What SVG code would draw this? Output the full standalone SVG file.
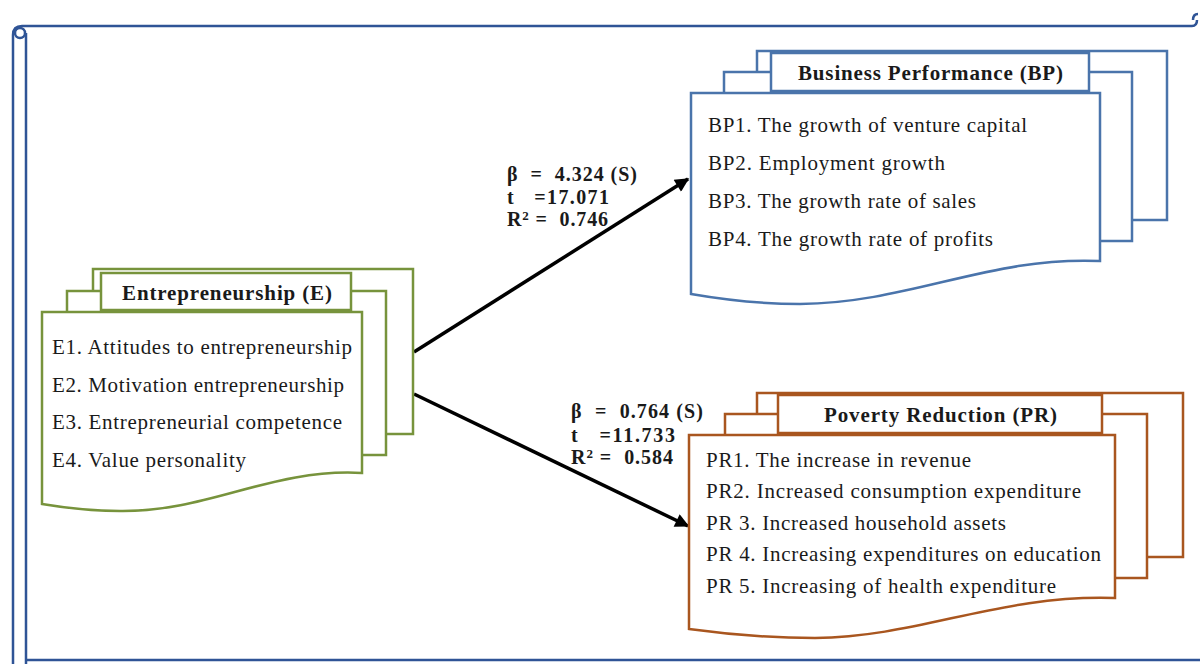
<svg xmlns="http://www.w3.org/2000/svg" width="1200" height="664" viewBox="0 0 1200 664">
<defs>
<style>
.frame{fill:none;stroke:#2F5496;stroke-width:2.5}
.g{fill:#fff;stroke:#77933C;stroke-width:2.5}
.b{fill:#fff;stroke:#4A74AB;stroke-width:2.5}
.o{fill:#fff;stroke:#A9561F;stroke-width:2.5}
.t{font-family:"Liberation Serif","Times New Roman",serif;font-size:21px;fill:#1a1a1a}
.h{font-family:"Liberation Serif","Times New Roman",serif;font-size:21px;font-weight:bold;fill:#1a1a1a}
.l{font-family:"Liberation Serif","Times New Roman",serif;font-size:20px;font-weight:bold;fill:#1a1a1a}
.c{fill:none;stroke:#000;stroke-width:3.5}
</style>
<marker id="ah" viewBox="0 0 10 10" refX="9" refY="5" markerWidth="4.5" markerHeight="4" orient="auto" markerUnits="strokeWidth">
<path d="M0,0 L10,5 L0,10 Z" fill="#000"/>
</marker>
</defs>
<rect width="1200" height="664" fill="#fff"/>
<g id="frame">
<path class="frame" d="M13,664 V35 Q13,26 22,26 H1192 Q1197,26 1197,20"/>
<circle class="frame" cx="20" cy="33" r="5"/>
<path class="frame" d="M26,33 V664"/>
<path class="frame" d="M26,660 H1200"/>
<path class="frame" d="M1193,20 Q1193,14 1198,14"/>
</g>
<g id="connectors">
<line class="c" x1="414" y1="352" x2="688" y2="179" marker-end="url(#ah)"/>
<line class="c" x1="414" y1="394" x2="688" y2="526" marker-end="url(#ah)"/>
<g id="label1" class="l">
<text xml:space="preserve" x="507" y="181" textLength="130">β  =  4.324 (S)</text>
<text xml:space="preserve" x="507" y="204" textLength="102">t   =17.071</text>
<text xml:space="preserve" x="507" y="226" textLength="101">R<tspan font-size="13" dy="-6">2</tspan><tspan dy="6"> =  0.746</tspan></text>
</g>
<g id="label2" class="l">
<text xml:space="preserve" x="571" y="418" textLength="132">β  =  0.764 (S)</text>
<text xml:space="preserve" x="571" y="442" textLength="104">t   =11.733</text>
<text xml:space="preserve" x="571" y="464" textLength="102">R<tspan font-size="13" dy="-6">2</tspan><tspan dy="6"> =  0.584</tspan></text>
</g>
</g>
<g id="node-E">
<rect class="g" x="93" y="269" width="320" height="165"/>
<rect class="g" x="67" y="291" width="319" height="164"/>
<rect class="g" x="101" y="273" width="250" height="37"/>
<text class="h" x="122" y="300" textLength="210">Entrepreneurship (E)</text>
<path class="g" d="M42,312 H362 V473 C270,468 210,512 120,511 C85,511 60,507 42,504 Z"/>
<text class="t" x="52" y="354" textLength="300">E1. Attitudes to entrepreneurship</text>
<text class="t" x="52" y="392" textLength="292">E2. Motivation entrepreneurship</text>
<text class="t" x="52" y="429" textLength="290">E3. Entrepreneurial competence</text>
<text class="t" x="52" y="467" textLength="194">E4. Value personality</text>
</g>
<g id="node-BP">
<rect class="b" x="757" y="51" width="410" height="169"/>
<rect class="b" x="724" y="72" width="408" height="169"/>
<rect class="b" x="771" y="53" width="318" height="38"/>
<text class="h" x="798" y="80" textLength="265">Business Performance (BP)</text>
<path class="b" d="M691,93 H1100 V261 C990,256 910,303 800,304 C760,304 720,299 691,294 Z"/>
<text class="t" x="708" y="132" textLength="319">BP1. The growth of venture capital</text>
<text class="t" x="708" y="170" textLength="237">BP2. Employment growth</text>
<text class="t" x="708" y="208" textLength="268">BP3. The growth rate of sales</text>
<text class="t" x="708" y="246" textLength="285">BP4. The growth rate of profits</text>
</g>
<g id="node-PR">
<rect class="o" x="757" y="393" width="426" height="164"/>
<rect class="o" x="725" y="414" width="422" height="164"/>
<rect class="o" x="778" y="395" width="324" height="38"/>
<text class="h" x="824" y="422" textLength="233">Poverty Reduction (PR)</text>
<path class="o" d="M689,435 H1115 V598 C1000,594 920,637 815,638 C770,638 725,634 689,629 Z"/>
<text class="t" x="706" y="467" textLength="265">PR1. The increase in revenue</text>
<text class="t" x="706" y="498" textLength="375">PR2. Increased consumption expenditure</text>
<text class="t" x="706" y="530" textLength="300">PR 3. Increased household assets</text>
<text class="t" x="706" y="561" textLength="395">PR 4. Increasing expenditures on education</text>
<text class="t" x="706" y="593" textLength="350">PR 5. Increasing of health expenditure</text>
</g>
</svg>
